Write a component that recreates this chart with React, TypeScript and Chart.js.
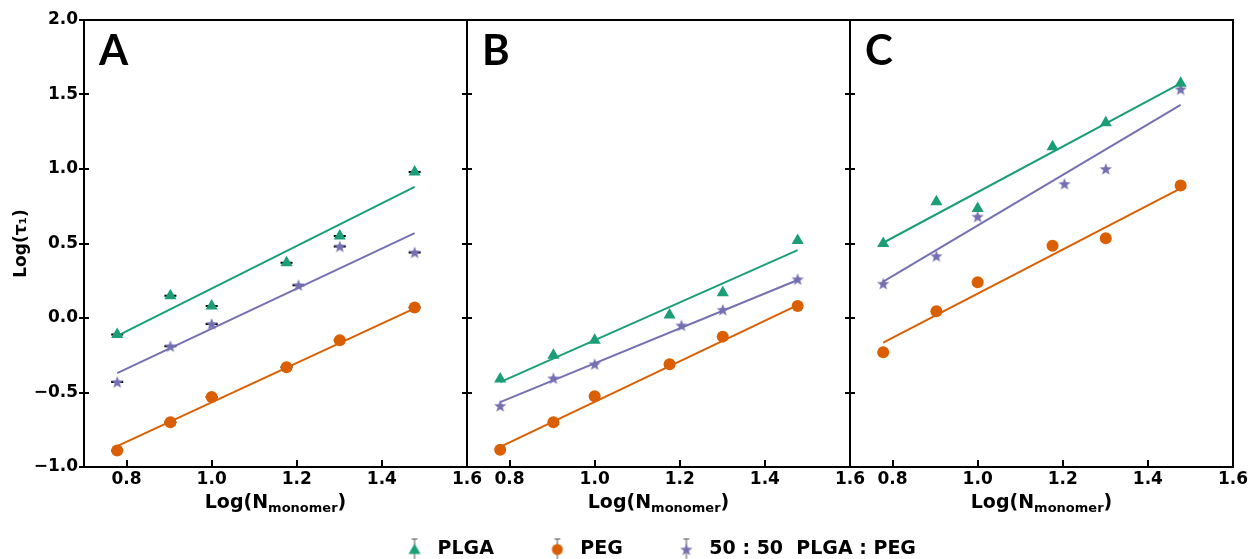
import React, { useEffect, useRef } from 'react';
import { Chart, registerables } from 'chart.js';

Chart.register(...registerables);

// ---------- data ----------
const xPure = [0.778, 0.903, 1.0, 1.176, 1.301, 1.477]; // PLGA, PEG  (log N)
const xMix = [0.778, 0.903, 1.0, 1.204, 1.301, 1.477]; // 50:50 blend
const xFit = [0.778, 1.477];

const plgaA = [-0.11, 0.15, 0.08, 0.37, 0.55, 0.98];
const pegA = [-0.89, -0.70, -0.53, -0.33, -0.15, 0.07];
const mixA = [-0.43, -0.19, -0.04, 0.22, 0.48, 0.44];
const plgaFitA = [-0.12, 0.88];
const pegFitA = [-0.86, 0.065];
const mixFitA = [-0.37, 0.57];

const plgaB = [-0.41, -0.25, -0.15, 0.02, 0.17, 0.52];
const pegB = [-0.885, -0.70, -0.525, -0.31, -0.125, 0.08];
const mixB = [-0.59, -0.405, -0.31, -0.05, 0.055, 0.26];
const plgaFitB = [-0.43, 0.455];
const pegFitB = [-0.865, 0.087];
const mixFitB = [-0.565, 0.255];

const plgaC = [0.50, 0.78, 0.735, 1.15, 1.31, 1.575];
const pegC = [-0.23, 0.045, 0.24, 0.485, 0.535, 0.89];
const mixC = [0.23, 0.415, 0.68, 0.90, 1.0, 1.535];
const plgaFitC = [0.505, 1.575];
const pegFitC = [-0.166, 0.87];
const mixFitC = [0.244, 1.43];

const xTicks = [0.8, 1.0, 1.2, 1.4, 1.6];
const yTicks = [-1.0, -0.5, 0.0, 0.5, 1.0, 1.5, 2.0];
const panelLetters = ['A', 'B', 'C'];
const seriesNames = ['PLGA', 'PEG', '50 : 50  PLGA : PEG'];
const yTitle = 'Log(τ₁)';
const xTitleMain = 'Log(N';
const xTitleSub = 'monomer';
const xTitleEnd = ')';

// ---------- styling ----------
const colors = ['#1b9e77', '#d95f02', '#7570b3'];
const shapes = ['triangle', 'circle', 'star'];
const markerRadius = [7, 6, 6];
const panelIds = ['xA', 'xB', 'xC'];
const capWidths = [12, 5, 5];
const FONT = "'DejaVu Sans', sans-serif";

const panelSeries = [
  [plgaA, pegA, mixA],
  [plgaB, pegB, mixB],
  [plgaC, pegC, mixC],
];
const panelFits = [
  [plgaFitA, pegFitA, mixFitA],
  [plgaFitB, pegFitB, mixFitB],
  [plgaFitC, pegFitC, mixFitC],
];
const seriesX = [xPure, xPure, xMix];

function makeMarker(shape: string, color: string, withErr: boolean) {
  const w = 16;
  const h = withErr ? 24 : 16;
  const c = document.createElement('canvas');
  c.width = w;
  c.height = h;
  const g = c.getContext('2d')!;
  const cx = w / 2;
  const cy = h / 2;
  if (withErr) {
    g.strokeStyle = '#555';
    g.lineWidth = 1;
    g.beginPath();
    g.moveTo(cx, 1.5); g.lineTo(cx, h - 1.5);
    g.moveTo(cx - 3, 1.5); g.lineTo(cx + 3, 1.5);
    g.moveTo(cx - 3, h - 1.5); g.lineTo(cx + 3, h - 1.5);
    g.stroke();
  }
  g.fillStyle = color;
  g.beginPath();
  if (shape === 'triangle') {
    g.moveTo(cx, cy - 6);
    g.lineTo(cx + 6, cy + 4.5);
    g.lineTo(cx - 6, cy + 4.5);
    g.closePath();
  } else if (shape === 'circle') {
    g.arc(cx, cy, 5.5, 0, Math.PI * 2);
  } else {
    const R = 6.5, r = 2.7;
    for (let i = 0; i < 10; i++) {
      const a = -Math.PI / 2 + (i * Math.PI) / 5;
      const rad = i % 2 === 0 ? R : r;
      const px = cx + rad * Math.cos(a);
      const py = cy + 0.5 + rad * Math.sin(a);
      if (i === 0) g.moveTo(px, py); else g.lineTo(px, py);
    }
    g.closePath();
  }
  g.fill();
  return c;
}

const panelsPlugin = {
  id: 'panelsPlugin',
  beforeDatasetsDraw(chart: any) {
    const { ctx, chartArea } = chart;
    const yS = chart.scales.y;
    ctx.save();
    ctx.strokeStyle = '#000';
    ctx.lineWidth = 2;
    panelIds.forEach((id, p) => {
      const s = chart.scales[id];
      ctx.strokeRect(s.left, chartArea.top, s.right - s.left, chartArea.bottom - chartArea.top);
      ctx.beginPath();
      xTicks.forEach((v) => {
        const px = Math.round(s.getPixelForValue(v));
        ctx.moveTo(px, chartArea.bottom);
        ctx.lineTo(px, chartArea.bottom - 7);
      });
      yTicks.forEach((v) => {
        const py = Math.round(yS.getPixelForValue(v));
        ctx.moveTo(s.left - 5, py);
        ctx.lineTo(s.left + 5, py);
      });
      ctx.stroke();
      // error-bar caps (errors negligible)
      const cw = capWidths[p];
      ctx.beginPath();
      panelSeries[p].forEach((ys, k) => {
        ys.forEach((v, i) => {
          const px = s.getPixelForValue(seriesX[k][i]);
          const py = yS.getPixelForValue(v);
          ctx.moveTo(px - cw / 2, py);
          ctx.lineTo(px + cw / 2, py);
        });
      });
      ctx.stroke();
    });
    ctx.restore();
  },
  afterDraw(chart: any) {
    const { ctx, chartArea } = chart;
    ctx.save();
    ctx.fillStyle = '#000';
    panelIds.forEach((id, p) => {
      const s = chart.scales[id];
      ctx.textAlign = 'left';
      ctx.textBaseline = 'alphabetic';
      ctx.font = "bold 42px Lato, 'DejaVu Sans', sans-serif";
      ctx.fillText(panelLetters[p], s.left + 15, chartArea.top + 45);
      const main = `bold 19px ${FONT}`;
      const sub = `bold 13px ${FONT}`;
      ctx.font = main;
      const w1 = ctx.measureText(xTitleMain).width;
      const w3 = ctx.measureText(xTitleEnd).width;
      ctx.font = sub;
      const w2 = ctx.measureText(xTitleSub).width;
      let x = (s.left + s.right) / 2 - (w1 + w2 + w3) / 2;
      const yb = chartArea.bottom + 41;
      ctx.font = main;
      ctx.fillText(xTitleMain, x, yb);
      x += w1;
      ctx.font = sub;
      ctx.fillText(xTitleSub, x, yb + 4);
      x += w2;
      ctx.font = main;
      ctx.fillText(xTitleEnd, x, yb);
    });
    ctx.restore();
  },
};

export default function App() {
  const ref = useRef<HTMLCanvasElement>(null);

  useEffect(() => {
    if (!ref.current) return;
    Chart.defaults.font.family = FONT;

    const dataMarkers = shapes.map((sh, k) =>
      sh === 'star' ? makeMarker('star', colors[k], false) : sh
    );
    const legendMarkers = shapes.map((sh, k) => makeMarker(sh, colors[k], true));

    const datasets: any[] = [];
    panelIds.forEach((id, p) => {
      panelSeries[p].forEach((ys, k) => {
        datasets.push({
          label: seriesNames[k],
          data: ys.map((v, i) => ({ x: seriesX[k][i], y: v })),
          xAxisID: id,
          yAxisID: 'y',
          showLine: false,
          pointStyle: dataMarkers[k],
          pointRadius: markerRadius[k],
          pointBackgroundColor: colors[k],
          pointBorderColor: colors[k],
          pointBorderWidth: 0,
          order: 0,
        });
      });
      panelFits[p].forEach((ys, k) => {
        datasets.push({
          label: seriesNames[k] + ' fit',
          data: ys.map((v, i) => ({ x: xFit[i], y: v })),
          xAxisID: id,
          yAxisID: 'y',
          showLine: true,
          pointRadius: 0,
          borderColor: colors[k],
          borderWidth: 2,
          fill: false,
          order: 1,
        });
      });
    });

    const xScale = () => ({
      type: 'linear',
      position: 'bottom',
      stack: 'panels',
      stackWeight: 1,
      min: 0.7,
      max: 1.6,
      grid: { display: false, drawTicks: false },
      border: { display: false },
      ticks: {
        font: { size: 17, weight: 'bold' },
        color: '#000',
        padding: 2,
        maxRotation: 0,
        autoSkip: false,
        callback: (v: any) => Number(v).toFixed(1),
      },
      afterBuildTicks: (s: any) => {
        s.ticks = xTicks.map((v) => ({ value: v }));
      },
      afterFit: (s: any) => {
        s.height = 23;
      },
    });

    const chart = new Chart(ref.current, {
      type: 'scatter',
      data: { datasets },
      options: {
        animation: false,
        responsive: false,
        layout: { padding: { left: 0, right: 19, top: 20, bottom: -10 } },
        scales: {
          xA: xScale(),
          xB: xScale(),
          xC: xScale(),
          y: {
            type: 'linear',
            position: 'left',
            min: -1,
            max: 2,
            grid: { display: false, drawTicks: false },
            border: { display: false },
            ticks: {
              font: { size: 17, weight: 'bold' },
              color: '#000',
              padding: 6,
              autoSkip: false,
              callback: (v: any) => Number(v).toFixed(1).replace('-', '\u2212'),
            },
            afterBuildTicks: (s: any) => {
              s.ticks = yTicks.map((v) => ({ value: v }));
            },
            title: {
              display: true,
              text: yTitle,
              color: '#000',
              font: { size: 17, weight: 'bold' },
              padding: { top: 11, bottom: 0 },
            },
            afterFit: (s: any) => {
              s.width = 84;
            },
          },
        } as any,
        plugins: {
          tooltip: { enabled: false },
          legend: {
            position: 'bottom',
            fullSize: false,
            labels: {
              usePointStyle: true,
              pointStyleWidth: 27,
              padding: 50,
              color: '#000',
              font: { size: 19, weight: 'bold' },
              generateLabels: () =>
                seriesNames.map((name, k) => ({
                  text: name,
                  pointStyle: legendMarkers[k],
                  fillStyle: colors[k],
                  strokeStyle: colors[k],
                  lineWidth: 0,
                  hidden: false,
                  datasetIndex: k,
                })),
            },
          },
        },
      } as any,
      plugins: [panelsPlugin],
    });

    return () => chart.destroy();
  }, []);

  return (
    <div style={{ position: 'fixed', left: 0, top: 0, width: 1252, height: 559, background: '#fff' }}>
      <canvas ref={ref} width={1252} height={559} style={{ display: 'block', width: 1252, height: 559 }} />
    </div>
  );
}
